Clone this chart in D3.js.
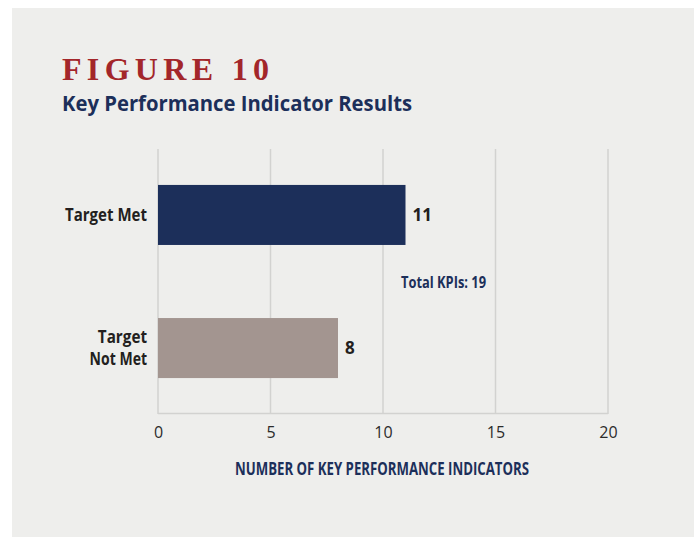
<!DOCTYPE html>
<html><head><meta charset="utf-8">
<script src="https://cdn.jsdelivr.net/npm/d3@7"></script>
<style>body{margin:0;background:#fff}svg{display:block}</style>
</head><body>
<svg id="c" width="694" height="537"></svg>
<script>
const categories = [["Target Met"], ["Target", "Not Met"]];
const values = [11, 8];
const barColors = ["#1c2f5a", "#a39590"];
const ticks = [0, 5, 10, 15, 20];
const titleText = "FIGURE 10";
const subtitleText = "Key Performance Indicator Results";
const axisTitle = "NUMBER OF KEY PERFORMANCE INDICATORS";
const totalNote = "Total KPIs: 19";

const svg = d3.select("#c");
svg.append("rect").attr("x", 12).attr("y", 8).attr("width", 682).attr("height", 529).attr("fill", "#eeeeec");

svg.append("text").attr("x", 62).attr("y", 80).attr("fill", "#a3262a")
  .attr("font-family", "'Liberation Serif', 'DejaVu Serif', serif").attr("font-weight", 700).attr("font-size", 32)
  .attr("textLength", 207).attr("lengthAdjust", "spacing").text(titleText);
svg.append("text").attr("x", 62).attr("y", 111).attr("fill", "#1c2f5a")
  .attr("font-family", "'Open Sans', 'Noto Sans', sans-serif").attr("font-weight", 700).attr("font-size", 21)
  .attr("textLength", 350).attr("lengthAdjust", "spacingAndGlyphs").text(subtitleText);

const x = d3.scaleLinear().domain([0, 20]).range([158, 608]);
const y = d3.scaleBand().domain(d3.range(categories.length)).range([149, 414]).paddingInner(0.549).paddingOuter(0.27);

// gridlines
svg.append("g").selectAll("line").data(ticks).join("line")
  .attr("x1", d => x(d)).attr("x2", d => x(d)).attr("y1", 149).attr("y2", 414)
  .attr("stroke", "#d2d2d0").attr("stroke-width", 1.5);
svg.append("line").attr("x1", x(0)).attr("x2", x(20)).attr("y1", 413.5).attr("y2", 413.5)
  .attr("stroke", "#d2d2d0").attr("stroke-width", 1.5);

// x axis
const xAxis = svg.append("g").attr("transform", "translate(0,420)")
  .call(d3.axisBottom(x).tickValues(ticks).tickSize(0).tickPadding(0));
xAxis.select(".domain").remove();
xAxis.selectAll("text").attr("font-family", "'Open Sans', 'Noto Sans', sans-serif").attr("font-size", 16)
  .attr("fill", "#2b2b2b").attr("dy", "1.1em");

// bars
svg.append("g").selectAll("rect").data(values).join("rect")
  .attr("x", x(0)).attr("y", (d, i) => y(i)).attr("width", d => x(d) - x(0)).attr("height", y.bandwidth())
  .attr("fill", (d, i) => barColors[i]);

// value labels
svg.append("g").selectAll("text").data(values).join("text")
  .attr("x", d => x(d) + 7).attr("y", (d, i) => y(i) + y.bandwidth() / 2).attr("dy", "0.35em")
  .attr("font-family", "'Open Sans', 'Noto Sans', sans-serif").attr("font-weight", 700).attr("font-size", 17)
  .attr("fill", "#231f20").text(d => d);

// category labels
const cat = svg.append("g").selectAll("text").data(categories).join("text")
  .attr("text-anchor", "end")
  .attr("font-family", "'Open Sans', 'Noto Sans', sans-serif").attr("font-weight", 700).attr("font-size", 17)
  .attr("fill", "#231f20")
  .attr("transform", (d, i) => `translate(147,${y(i) + y.bandwidth() / 2})`);
cat.selectAll("tspan").data(d => d.map((t, j) => ({t, j, n: d.length}))).join("tspan")
  .attr("x", 0).attr("y", d => (d.j - (d.n - 1) / 2) * 22).attr("dy", "0.35em")
  .attr("textLength", d => d.t.length * 8.2).attr("lengthAdjust", "spacingAndGlyphs")
  .text(d => d.t);

svg.append("text").attr("x", 401).attr("y", 288).attr("fill", "#1c2f5a")
  .attr("font-family", "'Open Sans', 'Noto Sans', sans-serif").attr("font-weight", 700).attr("font-size", 16)
  .attr("textLength", 85).attr("lengthAdjust", "spacingAndGlyphs").text(totalNote);

svg.append("text").attr("x", 235).attr("y", 475).attr("fill", "#1c2f5a")
  .attr("font-family", "'Open Sans', 'Noto Sans', sans-serif").attr("font-weight", 700).attr("font-size", 17)
  .attr("textLength", 294).attr("lengthAdjust", "spacingAndGlyphs").text(axisTitle);
</script>
</body></html>
